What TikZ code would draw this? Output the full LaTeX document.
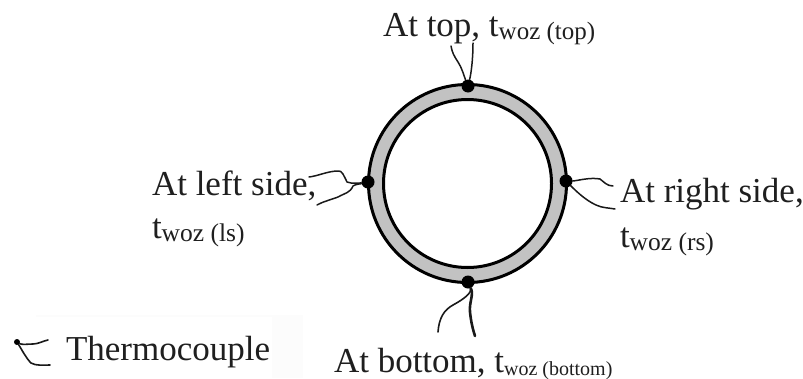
\documentclass[tikz,border=0pt]{standalone}
\usepackage{fontspec}
\setmainfont{Liberation Serif}
\newcommand{\bigt}{\fontsize{35}{38}\selectfont}
\newcommand{\subt}[2]{{\fontsize{#1}{#1}\selectfont\raisebox{-3pt}{#2}}}
\tikzset{
  lab/.style={inner sep=0pt,outer sep=0pt,anchor=base west,text=black!88,font=\bigt},
  wire/.style={draw=black!90,line width=1.5pt,line cap=round,line join=round},
  tip/.style={circle,fill=black,inner sep=0pt,minimum size=13pt},
  tipsmall/.style={circle,fill=black,inner sep=0pt,minimum size=6pt}
}
\begin{document}
\begin{tikzpicture}[x=1pt,y=-1pt]
\useasboundingbox (0,0) rectangle (803,378);
\fill[black!1] (36,315) rectangle (303,378);
\fill[white] (36,317) rectangle (272,378);
% ring
\fill[black!24,even odd rule] (467.5,183.5) circle (100) (467.5,183.5) circle (84);
\draw[line width=3pt,black] (467.5,183.5) circle (99) (467.5,183.5) circle (84);
% sensors
\node[tip] (T) at (468,86) {};
\node[tip] (B) at (468,282) {};
\node[tip] (L) at (368,182) {};
\node[tip] (R) at (566,181) {};
\node[tipsmall] (K) at (17,342) {};
% free ends
\coordinate (T1) at (451,46); \coordinate (T2) at (473,43);
\coordinate (B1) at (438,332); \coordinate (B2) at (475,336);
\coordinate (L1) at (309,177); \coordinate (L2) at (317,205);
\coordinate (R1) at (613,186); \coordinate (R2) at (615,209);
\coordinate (K1) at (48,340); \coordinate (K2) at (50,365);
% wires
\draw[wire] (T) .. controls (464,76) and (462,68) .. (458,62) .. controls (454,56) and (452,52) .. (T1);
\draw[wire] (T) .. controls (471,74) and (473,60) .. (T2);
\draw[wire,line width=1.6pt] (B) .. controls (472,292) and (466,298) .. (453,305) .. controls (444,310) and (439,318) .. (B1);
\draw[wire,line width=2.6pt] (B) .. controls (474,295) and (469,302) .. (470,312) .. controls (471,322) and (473,330) .. (B2);
\draw[wire] (L) .. controls (360,183) and (352,184) .. (347,182) .. controls (344,176) and (342,170) .. (338,171) .. controls (328,171) and (318,176) .. (L1);
\draw[wire] (L) .. controls (360,184) and (356,184) .. (353,186) .. controls (350,193) and (345,193) .. (338,197) .. controls (330,200) and (322,202) .. (L2);
\draw[wire] (R) .. controls (576,181) and (590,177) .. (600,179) .. controls (604,182) and (607,186) .. (R1);
\draw[wire] (R) .. controls (575,190) and (585,200) .. (596,205) .. controls (602,208) and (610,208) .. (R2);
\draw[wire,line width=1.6pt] (K) .. controls (22,345) and (28,344) .. (33,344) .. controls (38,344) and (43,341) .. (K1);
\draw[wire,line width=1.6pt] (K) .. controls (22,350) and (26,358) .. (31,363) .. controls (36,366) and (44,365) .. (K2);
% labels
\node[lab] (t1) at (383,36) {At top, t\subt{25}{woz (top)}};
\node[lab] (t2) at (152,195) {At left side,};
\node[lab] (t3) at (152,238) {t\subt{25.5}{woz (ls)}};
\node[lab] (t4) at (620,202) {At right side,};
\node[lab] (t5) at (620,247) {t\subt{25.5}{woz (rs)}};
\node[lab] (t6) at (334,372) {At bottom, t\subt{20}{woz (bottom)}};
\node[lab] (t7) at (66,360) {Thermocouple};
\end{tikzpicture}
\end{document}
